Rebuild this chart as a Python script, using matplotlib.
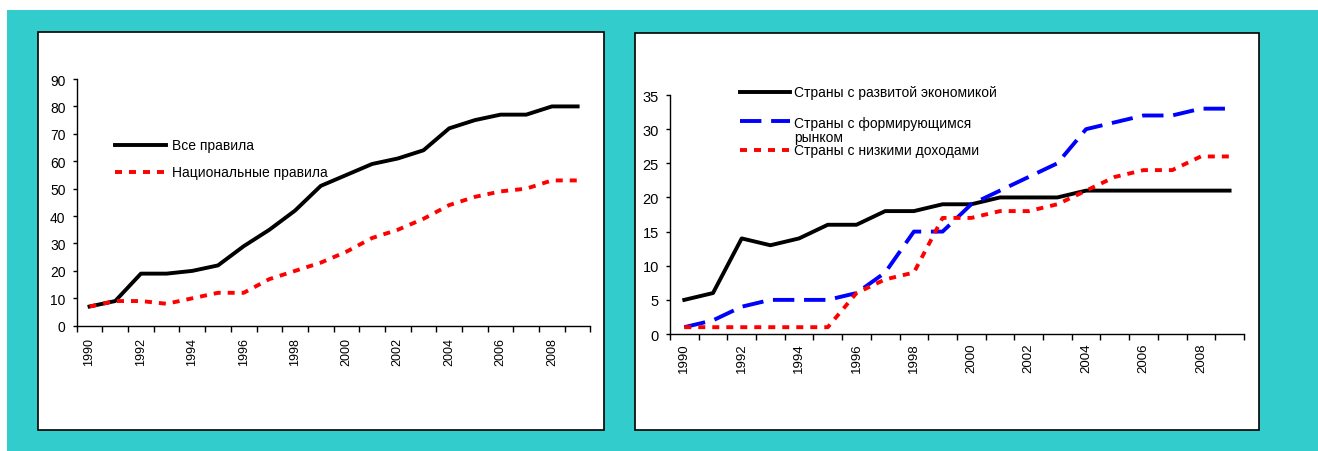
import numpy as np
import matplotlib
matplotlib.use('Agg')
import matplotlib.pyplot as plt
from matplotlib.patches import Rectangle

plt.rcParams['font.family'] = ['Liberation Sans', 'DejaVu Sans']

# данные
years = np.arange(1990, 2010)

vse_pravila = [7, 9, 19, 19, 20, 22, 29, 35, 42, 51,
               55, 59, 61, 64, 72, 75, 77, 77, 80, 80]
nac_pravila = [7, 9, 9, 8, 10, 12, 12, 17, 20, 23,
               27, 32, 35, 39, 44, 47, 49, 50, 53, 53]

razvitye = [5, 6, 14, 13, 14, 16, 16, 18, 18, 19,
            19, 20, 20, 20, 21, 21, 21, 21, 21, 21]
formir = [1, 2, 4, 5, 5, 5, 6, 9, 15, 15,
          19, 21, 23, 25, 30, 31, 32, 32, 33, 33]
nizkie = [1, 1, 1, 1, 1, 1, 6, 8, 9, 17,
          17, 18, 18, 19, 21, 23, 24, 24, 26, 26]

lab_left = ['Все правила', 'Национальные правила']
lab_right = ['Страны с развитой экономикой',
             'Страны с формирующимся\nрынком',
             'Страны с низкими доходами']

W, H = 1318, 452
fig = plt.figure(figsize=(W / 100, H / 100), dpi=100)

def px_rect(x0, y0, x1, y1, **kw):          # прямоугольник в пикселях картинки
    r = Rectangle((x0 / W, 1 - y1 / H), (x1 - x0) / W, (y1 - y0) / H,
                  transform=fig.transFigure, **kw)
    fig.add_artist(r)

px_rect(7, 11, W, H, facecolor='#33cccc', edgecolor='none', zorder=0)
px_rect(38, 33, 604, 431, facecolor='white', edgecolor='black', lw=1.2, zorder=0)
px_rect(635, 34, 1259, 431, facecolor='white', edgecolor='black', lw=1.2, zorder=0)

def osi(ax, ymax, ystep, xpad, xsize, ysize):
    ax.set_facecolor('none')
    ax.set_xlim(1989.5, 2009.5)
    ax.set_ylim(0, ymax)
    ax.set_yticks(np.arange(0, ymax + 1, ystep))
    ax.set_xticks(np.arange(1989.5, 2010, 1))
    ax.set_xticklabels([])
    ax.set_xticks(years[::2], minor=True)
    ax.set_xticklabels([str(y) for y in years[::2]], minor=True, rotation=90)
    ax.tick_params(axis='x', which='major', length=4, width=1, direction='out')
    ax.tick_params(axis='x', which='minor', length=0, pad=xpad, labelsize=xsize)
    ax.tick_params(axis='y', length=3, width=1, pad=5, labelsize=ysize)
    for s in ['top', 'right']:
        ax.spines[s].set_visible(False)
    for s in ['left', 'bottom']:
        ax.spines[s].set_linewidth(1)

def legenda(ax, y, style, text, x0, x1, xt):
    ax.plot([x0, x1], [y, y], transform=ax.transAxes, clip_on=False, **style)
    ax.text(xt, y, text, transform=ax.transAxes, va='center', ha='left', fontsize=10)

sol = dict(color='black', lw=2.8, linestyle='-')
dot = dict(color='red', lw=2.8, linestyle=(0, (1.8, 1.8)))
dash = dict(color='blue', lw=2.8, linestyle=(0, (5.5, 2.5)))

# левый график
ax1 = fig.add_axes([0.0582, 0.2772, 0.3898, 0.5458])
osi(ax1, 90, 10, 8, 9, 10)
ax1.plot(years, vse_pravila, **sol)
ax1.plot(years, nac_pravila, **dot)
legenda(ax1, 0.7325, sol, lab_left[0], 0.0745, 0.174, 0.185)
legenda(ax1, 0.623, dot, lab_left[1], 0.0745, 0.174, 0.185)

# правый график
ax2 = fig.add_axes([0.5083, 0.2588, 0.4355, 0.5288])
osi(ax2, 35, 5, 6, 9.5, 10.5)
ax2.plot(years, razvitye, **sol)
ax2.plot(years, formir, **dash)
ax2.plot(years, nizkie, **dot)
legenda(ax2, 1.0126, sol, lab_right[0], 0.122, 0.209, 0.216)
ax2.plot([0.122, 0.209], [0.891, 0.891], transform=ax2.transAxes, clip_on=False, **dash)
ax2.text(0.216, 0.855, lab_right[1], transform=ax2.transAxes, va='center',
         ha='left', fontsize=10, linespacing=1.0)
legenda(ax2, 0.770, dot, lab_right[2], 0.122, 0.209, 0.216)

fig.savefig('out.png', dpi=100)
